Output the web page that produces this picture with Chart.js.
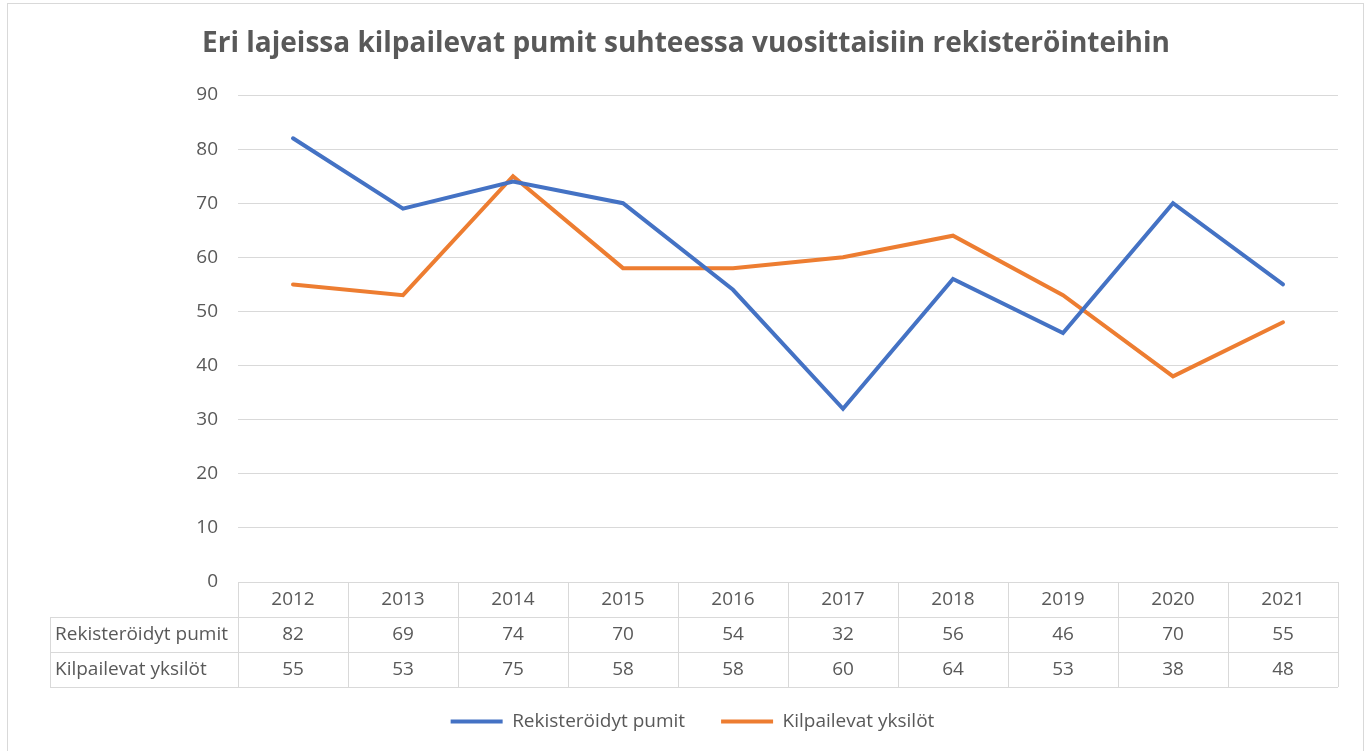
<!DOCTYPE html>
<html>
<head>
<meta charset="utf-8">
<script src="https://cdn.jsdelivr.net/npm/chart.js@4.4.1/dist/chart.umd.min.js"></script>
<style>
  html, body { margin: 0; padding: 0; background: #fff; }
  #wrap { width: 1371px; height: 751px; position: relative; }
</style>
</head>
<body>
<div id="wrap"><canvas id="chart" width="1371" height="751"></canvas></div>
<script>
// Chart data
const TITLE = 'Eri lajeissa kilpailevat pumit suhteessa vuosittaisiin rekisteröinteihin';
const years = ['2012', '2013', '2014', '2015', '2016', '2017', '2018', '2019', '2020', '2021'];
const registered = [82, 69, 74, 70, 54, 32, 56, 46, 70, 55];
const competing  = [55, 53, 75, 58, 58, 60, 64, 53, 38, 48];
const seriesNames = ['Rekisteröidyt pumit', 'Kilpailevat yksilöt'];

const TEXT = '#595959';
const GRID = '#d9d9d9';
const FONT = '"Open Sans", Lato, sans-serif';

// Frame, title and data table under the plot
const tablePlugin = {
  id: 'dataTable',
  afterLayout(chart) {
    // nudge the legend so it sits right under the table
    const lg = chart.legend;
    if (lg) {
      lg.left += 7; lg.right += 7;
      lg.top -= 10; lg.bottom -= 10;
    }
  },
  beforeDraw(chart) {
    const ctx = chart.ctx;
    ctx.save();
    ctx.strokeStyle = GRID;
    ctx.lineWidth = 1;
    ctx.strokeRect(7.5, 3.5, 1356, 800);
    ctx.restore();
  },
  afterDraw(chart) {
    const ctx = chart.ctx;
    const x = chart.scales.x;
    const area = chart.chartArea;
    const colW = (area.right - area.left) / years.length;
    const rowH = 35;
    const top = area.bottom;
    const labelLeft = 50;

    ctx.save();
    // title
    ctx.fillStyle = TEXT;
    ctx.font = 'bold 28px ' + FONT;
    ctx.textAlign = 'center';
    ctx.textBaseline = 'middle';
    ctx.fillText(TITLE, 686, 44);

    // table lines
    ctx.strokeStyle = GRID;
    ctx.lineWidth = 1;
    ctx.beginPath();
    for (let r = 1; r <= 3; r++) {
      const y = Math.round(top + r * rowH) + 0.5;
      ctx.moveTo(labelLeft, y);
      ctx.lineTo(area.right, y);
    }
    for (let i = 0; i <= years.length; i++) {
      const cx = Math.round(area.left + i * colW) + 0.5;
      ctx.moveTo(cx, top);
      ctx.lineTo(cx, top + 3 * rowH);
    }
    ctx.moveTo(labelLeft + 0.5, top + rowH);
    ctx.lineTo(labelLeft + 0.5, top + 3 * rowH);
    ctx.stroke();

    // table text
    ctx.fillStyle = TEXT;
    ctx.font = '19px ' + FONT;
    ctx.textBaseline = 'middle';
    ctx.textAlign = 'center';
    years.forEach((yr, i) => {
      const cx = x.getPixelForValue(i);
      ctx.fillText(yr, cx, top + rowH * 0.5);
      ctx.fillText(String(registered[i]), cx, top + rowH * 1.5);
      ctx.fillText(String(competing[i]), cx, top + rowH * 2.5);
    });
    ctx.textAlign = 'left';
    ctx.fillText(seriesNames[0], labelLeft + 5, top + rowH * 1.5);
    ctx.fillText(seriesNames[1], labelLeft + 5, top + rowH * 2.5);
    ctx.restore();
  },
};

new Chart(document.getElementById('chart'), {
  type: 'line',
  data: {
    labels: years,
    datasets: [
      {
        label: seriesNames[0],
        data: registered,
        borderColor: '#4472C4',
        backgroundColor: '#4472C4',
        borderWidth: 4,
        borderCapStyle: 'round',
        pointRadius: 0,
        tension: 0,
      },
      {
        label: seriesNames[1],
        data: competing,
        borderColor: '#ED7D31',
        backgroundColor: '#ED7D31',
        borderWidth: 4,
        borderCapStyle: 'round',
        pointRadius: 0,
        tension: 0,
      },
    ],
  },
  options: {
    responsive: false,
    animation: false,
    devicePixelRatio: 1,
    layout: { padding: { top: 95, bottom: 0, left: 0, right: 0 } },
    plugins: {
      title: { display: false },
      tooltip: { enabled: false },
      legend: {
        position: 'bottom',
        labels: {
          usePointStyle: true,
          pointStyle: 'line',
          pointStyleWidth: 52,
          color: TEXT,
          padding: 36,
          font: { family: FONT, size: 19 },
        },
      },
    },
    scales: {
      x: {
        offset: true,
        ticks: { display: false },
        grid: { display: false },
        border: { display: false },
        afterFit(scale) { scale.height = 104; },
      },
      y: {
        min: 0,
        max: 90,
        ticks: { stepSize: 10, color: TEXT, padding: 20, font: { family: FONT, size: 19 } },
        grid: { color: GRID, drawTicks: false },
        border: { display: false },
        afterFit(scale) { scale.width = 238; },
      },
      yRight: {
        position: 'right',
        ticks: { display: false },
        grid: { display: false },
        border: { display: false },
        afterFit(scale) { scale.width = 33; },
      },
    },
  },
  plugins: [tablePlugin],
});
</script>
</body>
</html>
